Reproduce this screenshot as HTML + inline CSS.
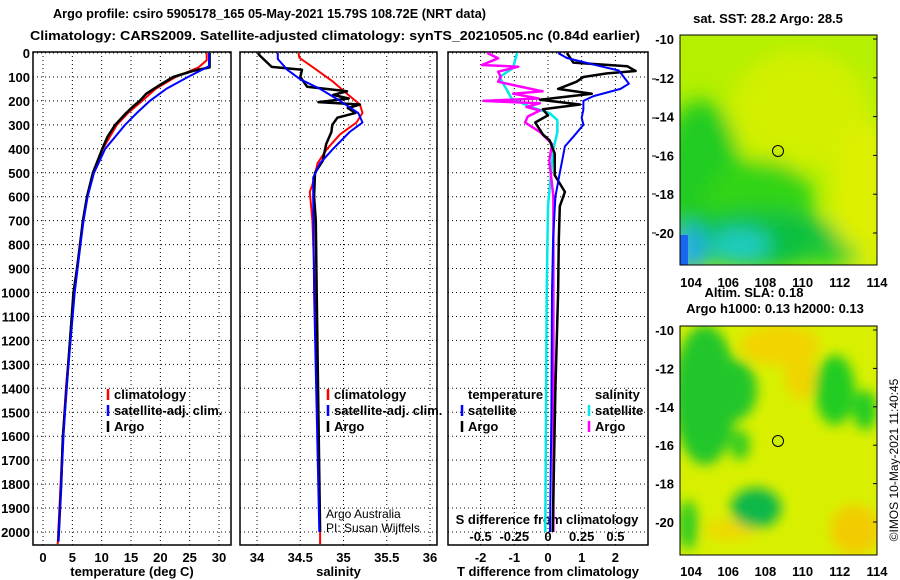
<!DOCTYPE html>
<html><head><meta charset="utf-8">
<style>
html,body{margin:0;padding:0;background:#fff;}
svg{display:block;font-family:"Liberation Sans",sans-serif;}
.b{font-weight:bold;font-size:13px;}
</style></head>
<body>
<svg id="chart" width="900" height="580" viewBox="0 0 900 580" xmlns="http://www.w3.org/2000/svg">
<defs>
<filter id="blur6" x="-50%" y="-50%" width="200%" height="200%"><feGaussianBlur stdDeviation="6"/></filter>
<filter id="blur10" x="-50%" y="-50%" width="200%" height="200%"><feGaussianBlur stdDeviation="10"/></filter>
<clipPath id="clipTop"><rect x="680" y="35" width="197" height="230"/></clipPath>
<clipPath id="clipBot"><rect x="680" y="326" width="197" height="229"/></clipPath>
</defs>
<rect width="900" height="580" fill="#fff"/>
<text class="b" x="53" y="18" textLength="433" lengthAdjust="spacingAndGlyphs">Argo profile: csiro 5905178_165 05-May-2021 15.79S 108.72E (NRT data)</text>
<text class="b" x="30" y="40" textLength="610" lengthAdjust="spacingAndGlyphs">Climatology: CARS2009. Satellite-adjusted climatology: synTS_20210505.nc (0.84d earlier)</text>

<!-- Maps -->
<g clip-path="url(#clipTop)">
  <rect x="680" y="35" width="197" height="230" fill="#b4f000"/>
  <g filter="url(#blur10)">
    <ellipse cx="800" cy="110" rx="70" ry="60" fill="#d2f000"/>
    <ellipse cx="865" cy="200" rx="35" ry="80" fill="#ddf000"/>
    <ellipse cx="700" cy="180" rx="40" ry="80" fill="#22cc22"/>
    <ellipse cx="760" cy="200" rx="55" ry="40" fill="#33d418"/>
    <ellipse cx="760" cy="240" rx="80" ry="30" fill="#10c040"/>
    <ellipse cx="740" cy="245" rx="30" ry="15" fill="#22ccc8"/>
    <ellipse cx="690" cy="250" rx="15" ry="25" fill="#22aaee"/>
    <ellipse cx="830" cy="255" rx="30" ry="12" fill="#22cc30"/>
  </g>
  <rect x="680" y="235" width="8" height="30" fill="#1a66ee"/>
</g>
<rect x="680" y="35" width="197" height="230" fill="none" stroke="#000"/>
<circle cx="778" cy="151" r="5.5" fill="none" stroke="#000"/>

<g clip-path="url(#clipBot)">
  <rect x="680" y="326" width="197" height="229" fill="#d8f000"/>
  <g filter="url(#blur6)">
    <ellipse cx="780" cy="345" rx="40" ry="20" fill="#f2d400"/>
    <ellipse cx="800" cy="375" rx="15" ry="25" fill="#f0d400"/>
    <ellipse cx="855" cy="530" rx="25" ry="25" fill="#f2cc00"/>
    <ellipse cx="730" cy="530" rx="25" ry="10" fill="#f0d800"/>
    <ellipse cx="705" cy="395" rx="32" ry="70" fill="#22c62a"/>
    <ellipse cx="735" cy="390" rx="22" ry="30" fill="#22c62a"/>
    <ellipse cx="740" cy="445" rx="10" ry="15" fill="#33cc22"/>
    <ellipse cx="835" cy="390" rx="20" ry="35" fill="#22cc22"/>
    <ellipse cx="865" cy="410" rx="12" ry="20" fill="#22cc22"/>
    <ellipse cx="756" cy="508" rx="25" ry="20" fill="#11b848"/>
    <ellipse cx="688" cy="525" rx="10" ry="25" fill="#33cc22"/>
  </g>
</g>
<rect x="680" y="326" width="197" height="229" fill="none" stroke="#000"/>
<circle cx="778" cy="441" r="5.5" fill="#ccf000" stroke="#000"/>

<text class="b" x="768" y="23" text-anchor="middle" font-size="12">sat. SST: 28.2 Argo: 28.5</text>
<text class="b" x="754" y="297" text-anchor="middle" font-size="12">Altim. SLA: 0.18</text>
<text class="b" x="775" y="313" text-anchor="middle" font-size="12">Argo h1000: 0.13 h2000: 0.13</text>
<text x="898" y="460" transform="rotate(-90 898 460)" text-anchor="middle" font-size="12">©IMOS 10-May-2021 11:40:45</text>

<g id="axes"></g>
<g id="marks"></g>
</svg>
<script>
// ---------- data ----------
const depthTicks = [0,100,200,300,400,500,600,700,800,900,1000,1100,1200,1300,1400,1500,1600,1700,1800,1900,2000];
const tempTicks = [0,5,10,15,20,25,30];
const salTicks = [34,34.5,35,35.5,36];
const salTickLabels = ["34","34.5","35","35.5","36"];
const tdiffTicks = [-2,-1,0,1,2];
const sdiffTicks = [-0.5,-0.25,0,0.25,0.5];
const sdiffTickLabels = ["-0.5","-0.25","0","0.25","0.5"];
const latTicks = [-10,-12,-14,-16,-18,-20];
const lonTicks = [104,106,108,110,112,114];

const tempClimDepth = [0,30,60,100,150,200,250,300,400,500,600,700,800,900,1000,1200,1400,1600,1800,2000,2050];
const tempClim      = [27.9,27.9,26.5,22.6,19.2,16.9,14.5,12.6,10.2,8.6,7.5,6.9,6.3,5.8,5.3,4.6,3.9,3.4,3.0,2.6,2.5];
const tempSatDepth  = [0,55,100,150,200,250,300,400,500,600,700,800,900,1000,1200,1400,1600,1800,2000,2040];
const tempSat       = [28.3,28.3,24.7,21.0,18.2,16.0,14.0,10.6,8.7,7.6,6.9,6.4,5.9,5.4,4.7,4.0,3.5,3.1,2.7,2.6];
const tempArgoDepth = [0,60,75,100,140,170,200,220,250,300,350,400,500,600,700,800,900,1000,1200,1400,1600,1800,2000,2040];
const tempArgo      = [28.4,28.4,25.5,22.2,19.5,17.6,16.5,15.5,14.2,12.3,11.0,10.1,8.5,7.5,6.8,6.3,5.8,5.2,4.6,4.0,3.4,3.1,2.7,2.6];

const salClimDepth = [0,20,60,120,170,215,250,290,340,400,460,550,580,700,1000,1500,2000,2050];
const salClim      = [34.48,34.49,34.65,34.88,35.04,35.19,35.22,35.15,34.96,34.81,34.70,34.64,34.61,34.64,34.67,34.70,34.73,34.73];
const salSatDepth  = [0,25,70,110,150,200,250,290,330,400,460,520,600,1000,1500,2000];
const salSat       = [34.24,34.24,34.35,34.50,34.73,34.96,35.17,35.22,35.07,34.88,34.73,34.65,34.65,34.66,34.69,34.72];
const salArgoDepth = [0,10,58,70,100,141,160,175,190,205,215,230,250,270,300,330,380,450,500,600,700,1000,1500,2000];
const salArgo      = [34.01,34.03,34.17,34.52,34.50,34.58,35.04,34.88,35.06,34.71,35.19,35.05,35.14,34.93,34.87,34.86,34.80,34.76,34.67,34.66,34.68,34.69,34.71,34.73];

const tdSatDepth  = [0,21,55,73,128,150,180,200,235,270,300,350,390,500,600,780,1000,1500,2000];
const tdSat       = [0.30,0.56,1.55,2.10,2.40,2.15,1.35,1.05,1.05,1.00,1.05,0.75,0.50,0.35,0.22,0.15,0.12,0.10,0.06];
const tdArgoDepth = [0,40,55,75,85,100,120,150,170,195,215,235,260,290,340,365,420,510,580,640,780,1000,1400,2000];
const tdArgo      = [0.56,0.75,2.35,2.60,1.75,1.05,0.85,0.30,1.30,-0.24,0.95,-0.15,0.00,-0.38,-0.15,0.05,0.20,0.20,0.50,0.35,0.32,0.30,0.22,0.14];
const sdSatDepth  = [0,63,100,140,190,225,250,280,330,400,640,1000,2000];
const sdSat       = [-0.23,-0.26,-0.36,-0.32,-0.27,-0.13,0.01,0.07,0.07,0.04,0.00,-0.01,-0.02];
const sdArgoDepth = [0,22,50,57,78,100,120,140,160,170,190,200,210,225,240,265,290,330,380,450,600,1000,2000];
const sdArgo      = [-0.45,-0.37,-0.49,-0.22,-0.37,-0.35,-0.37,-0.21,-0.04,-0.26,-0.07,-0.48,-0.06,-0.16,-0.06,-0.15,-0.17,-0.06,0.03,0.01,0.04,0.04,0.04];

// ---------- scales ----------
const yD = d => 53 + d * 0.2395;
const xT = t => 43 + t * 5.867;
const xS = s => 257 + (s - 34) * 86.5;
const xTD = v => 548 + v * 33.7;
const xSD = v => 548 + v * 134.8;
const yLatTop = l => 39 + (-10 - l) * 19.4;
const yLatBot = l => 330 + (-10 - l) * 19.2;
const xLon = l => 691 + (l - 104) * 18.6;

const NS = "http://www.w3.org/2000/svg";
const axes = document.getElementById('axes');
const marks = document.getElementById('marks');
function mk(tag, attrs, parent, txt){
  const e = document.createElementNS(NS, tag);
  for (const k in attrs) e.setAttribute(k, attrs[k]);
  if (txt !== undefined) e.textContent = txt;
  parent.appendChild(e);
  return e;
}

const panels = [
  {name:'temperature', x0:33, x1:231, ticks:tempTicks, labels:tempTicks.map(String), sx:xT, title:'temperature (deg C)'},
  {name:'salinity', x0:240, x1:437, ticks:salTicks, labels:salTickLabels, sx:xS, title:'salinity'},
  {name:'difference', x0:448, x1:648, ticks:tdiffTicks, labels:tdiffTicks.map(String), sx:xTD, title:'T difference from climatology'}
];
const pTop = 52, pBot = 545;
panels.forEach(p => {
  const g = mk('g', {}, axes);
  
  
  depthTicks.forEach(d => {
    const gl = mk('line', {x1:p.x0, x2:p.x1, y1:yD(d), y2:yD(d), stroke:'#000', 'stroke-width':1, 'stroke-dasharray':'1,3'}, g);
    
    
  });
  p.ticks.forEach((t, i) => {
    const gl = mk('line', {x1:p.sx(t), x2:p.sx(t), y1:pTop, y2:pBot, stroke:'#000', 'stroke-width':1, 'stroke-dasharray':'1,3'}, g);
    
    
    const tl = mk('text', {x:p.sx(t), y:562, 'text-anchor':'middle', class:'b'}, g, p.labels[i]);
    
    
  });
  const fr = mk('rect', {x:p.x0, y:pTop, width:p.x1-p.x0, height:pBot-pTop, fill:'none', stroke:'#000', 'stroke-width':1.5}, g);
  
  
  const at = mk('text', {x:(p.x0+p.x1)/2, y:576, 'text-anchor':'middle', class:'b'}, g, p.title);
  
  
});
depthTicks.forEach(d => {
  const tl = mk('text', {x:30, y:yD(d)+5, 'text-anchor':'end', class:'b'}, axes, String(d));
  
  
});
[79,118,156,194,233].forEach(y => {
  const t = mk('line', {x1:652, x2:656, y1:y, y2:y, stroke:'#000'}, axes);
  
  
});
const sdt = mk('text', {x:547, y:524, 'text-anchor':'middle', class:'b'}, axes, 'S difference from climatology');


sdiffTicks.forEach((v, i) => {
  const tl = mk('text', {x:xSD(v), y:541, 'text-anchor':'middle', class:'b'}, axes, sdiffTickLabels[i]);
  
  
});
latTicks.forEach(l => {
  [yLatTop(l), yLatBot(l)].forEach(y => {
    const tl = mk('text', {x:674, y:y+5, 'text-anchor':'end', class:'b'}, axes, String(l));
    
    
    const tk = mk('line', {x1:877, x2:873, y1:y, y2:y, stroke:'#000'}, axes);
    
    
  });
});
lonTicks.forEach(l => {
  [287, 576].forEach(y => {
    const tl = mk('text', {x:xLon(l), y:y, 'text-anchor':'middle', class:'b'}, axes, String(l));
    
    
  });
});

function series(depths, vals, sx, color, w, name){
  const pts = depths.map((d, i) => sx(vals[i]).toFixed(1) + ',' + yD(d).toFixed(1)).join(' ');
  const pl = mk('polyline', {points:pts, fill:'none', stroke:color, 'stroke-width':w, 'stroke-linejoin':'round'}, marks);
  
  
}
series(tempClimDepth, tempClim, xT, '#ff0000', 2, 'temp-climatology-line');
series(tempArgoDepth, tempArgo, xT, '#000', 2.5, 'temp-argo-line');
series(tempSatDepth, tempSat, xT, '#0000ff', 2, 'temp-satellite-line');
series(salClimDepth, salClim, xS, '#ff0000', 2, 'sal-climatology-line');
series(salArgoDepth, salArgo, xS, '#000', 2.5, 'sal-argo-line');
series(salSatDepth, salSat, xS, '#0000ff', 2, 'sal-satellite-line');
series(sdSatDepth, sdSat, xSD, '#00e8e8', 2.5, 'sdiff-satellite-line');
series(sdArgoDepth, sdArgo, xSD, '#ff00ff', 2.5, 'sdiff-argo-line');
series(tdArgoDepth, tdArgo, xTD, '#000', 2.5, 'tdiff-argo-line');
series(tdSatDepth, tdSat, xTD, '#0000ff', 2, 'tdiff-satellite-line');

function legendEntry(x, y, color, label){
  const g = mk('g', {}, marks);
  
  
  if (color) mk('line', {x1:x, x2:x, y1:y-10, y2:y+1, stroke:color, 'stroke-width':2.5}, g);
  mk('text', {x:x+6, y:y, class:'b', 'font-size':'12'}, g, label);
}
legendEntry(108, 399, '#ff0000', 'climatology');
legendEntry(108, 415, '#0000ff', 'satellite-adj. clim.');
legendEntry(108, 431, '#000', 'Argo');
legendEntry(328, 399, '#ff0000', 'climatology');
legendEntry(328, 415, '#0000ff', 'satellite-adj. clim.');
legendEntry(328, 431, '#000', 'Argo');
legendEntry(462, 399, null, 'temperature');
legendEntry(462, 415, '#0000ff', 'satellite');
legendEntry(462, 431, '#000', 'Argo');
legendEntry(589, 399, null, 'salinity');
legendEntry(589, 415, '#00e8e8', 'satellite');
legendEntry(589, 431, '#ff00ff', 'Argo');

const c1 = mk('text', {x:326, y:518, 'font-size':'12'}, marks, 'Argo Australia');


const c2 = mk('text', {x:326, y:532, 'font-size':'12'}, marks, 'PI: Susan Wijffels');


</script>
</body></html>
